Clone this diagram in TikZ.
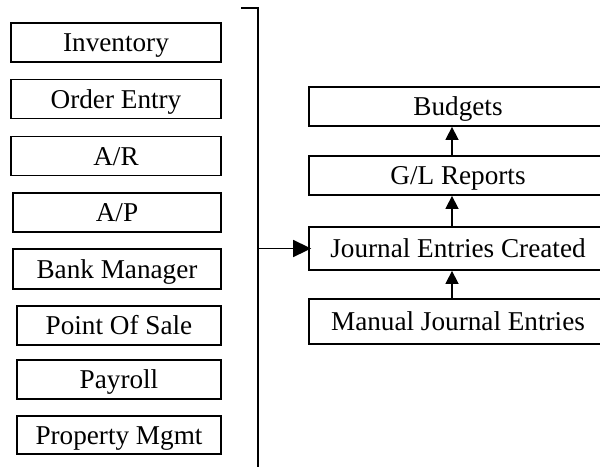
\documentclass[tikz,border=0pt]{standalone}
\usepackage{fontspec}
\setmainfont{Liberation Serif}
\usetikzlibrary{arrows.meta}
\tikzset{
  box/.style={draw, line width=1.8pt, inner sep=0pt, text height=18pt, text depth=0pt,
    font=\fontsize{27.2}{30}\selectfont},
  lbox/.style={box, minimum height=39pt},
  rbox/.style={box, minimum width=298pt},
  wire/.style={line width=1.6pt},
  feed/.style={wire, -{Triangle[length=18pt, width=17pt]}, shorten >=-3pt},
  up/.style={wire, -{Triangle[length=13pt, width=13pt]}}
}
\begin{document}
\begin{tikzpicture}[x=1pt, y=-1pt]
  \clip (0,0) rectangle (600,467);
  \fill[white] (0,0) rectangle (600,467);

  % source modules
  \node[lbox, minimum width=210pt] (inv)  at (116,42.5)  {Inventory};
  \node[lbox, minimum width=210pt] (ord)  at (116,99)    {Order Entry};
  \node[lbox, minimum width=210pt] (ar)   at (116,156)   {A/R};
  \node[lbox, minimum width=208pt] (ap)   at (117,212.5) {A/P};
  \node[lbox, minimum width=208pt, minimum height=40pt] (bank) at (117,269) {Bank Manager};
  \node[lbox, minimum width=204pt] (pos)  at (119,325.5) {Point Of Sale};
  \node[lbox, minimum width=204pt] (pay)  at (119,379.5) {Payroll};
  \node[lbox, minimum width=204pt, minimum height=38pt] (prop) at (119,435) {Property Mgmt};

  % general ledger chain
  \node[rbox, minimum height=39pt] (bud) at (458,106.5) {Budgets};
  \node[rbox, minimum height=39pt] (gl)  at (458,175.5) {G/L Reports};
  \node[rbox, minimum height=43pt] (jec) at (458,248.5) {Journal Entries Created};
  \node[rbox, minimum height=45pt] (mje) at (458,321.5) {Manual Journal Entries};

  % collecting bus
  \coordinate (tick) at (241,8);
  \coordinate (bustop) at (258,8);
  \coordinate (busbot) at (258,467);
  \coordinate (ax) at (452,0);
  \draw[wire] (tick) -- (bustop) -- (busbot);
  \draw[feed] (bustop |- jec.west) -- (jec.west);

  % upward flow
  \draw[up] (mje.north -| ax) -- (jec.south -| ax);
  \draw[up] (jec.north -| ax) -- (gl.south -| ax);
  \draw[up] (gl.north -| ax) -- (bud.south -| ax);
\end{tikzpicture}
\end{document}
